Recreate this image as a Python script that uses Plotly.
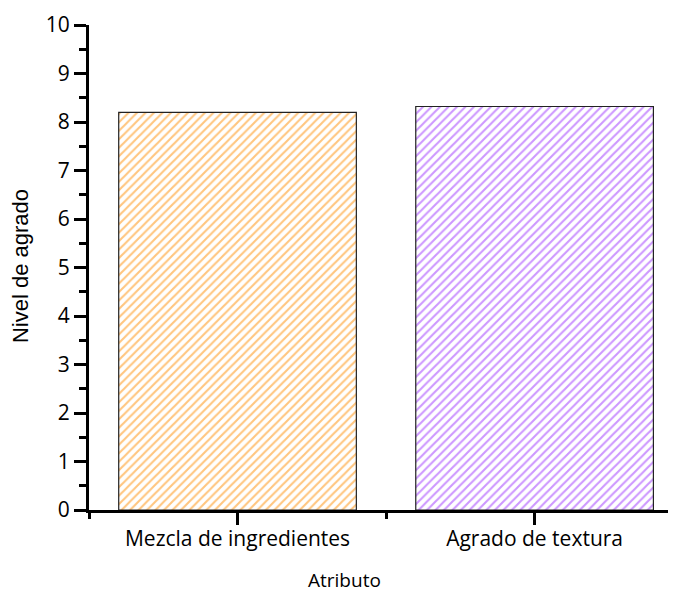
import plotly.graph_objects as go

categories = ["Mezcla de ingredientes", "Agrado de textura"]
values = [8.2, 8.32]
colors = ["#ff8c00", "#9b30ff"]
y_ticks = [0, 1, 2, 3, 4, 5, 6, 7, 8, 9, 10]
x_title = "Atributo"
y_title = "Nivel de agrado"

x_pos = list(range(len(categories)))

fig = go.Figure()
fig.add_trace(go.Bar(
    x=x_pos,
    y=values,
    width=0.8,
    marker=dict(
        color="white",
        line=dict(color="#222222", width=1.2),
        pattern=dict(shape="/", fgcolor=colors, bgcolor="white", size=6, solidity=0.35),
    ),
    showlegend=False,
))

font_family = "Open Sans, DejaVu Sans, sans-serif"

fig.update_layout(
    width=676, height=592,
    margin=dict(l=81, r=0, t=17, b=90),
    plot_bgcolor="white", paper_bgcolor="white",
    font=dict(family=font_family, size=21, color="black"),
    xaxis=dict(
        range=[-0.5, 1.503],
        tickmode="array", tickvals=x_pos, ticktext=categories,
        showline=True, linecolor="black", linewidth=3,
        ticks="outside", ticklen=12, tickwidth=3, tickcolor="black",
        minor=dict(tickmode="linear", tick0=0.5, dtick=1, ticks="outside", ticklen=6, tickwidth=3, tickcolor="black"),
        showgrid=False, zeroline=False,
        tickfont=dict(size=21),
        ticklabelstandoff=-4,
    ),
    yaxis=dict(
        range=[0, 10],
        tickmode="array", tickvals=y_ticks,
        showline=True, linecolor="black", linewidth=3,
        ticks="outside", ticklen=12, tickwidth=3, tickcolor="black",
        minor=dict(tickmode="linear", tick0=0.5, dtick=1, ticks="outside", ticklen=7, tickwidth=3, tickcolor="black"),
        showgrid=False, zeroline=False,
        tickfont=dict(size=21),
    ),
    annotations=[
        dict(text=x_title, xref="paper", yref="paper", x=0.430, y=-0.144,
             xanchor="center", yanchor="middle", showarrow=False,
             font=dict(size=19, family=font_family)),
        dict(text=y_title, xref="paper", yref="paper", x=-0.116, y=0.503,
             xanchor="center", yanchor="middle", showarrow=False, textangle=-90,
             font=dict(size=22, family="Liberation Sans, Arial, sans-serif")),
    ],
)

fig.write_html("out.html")
